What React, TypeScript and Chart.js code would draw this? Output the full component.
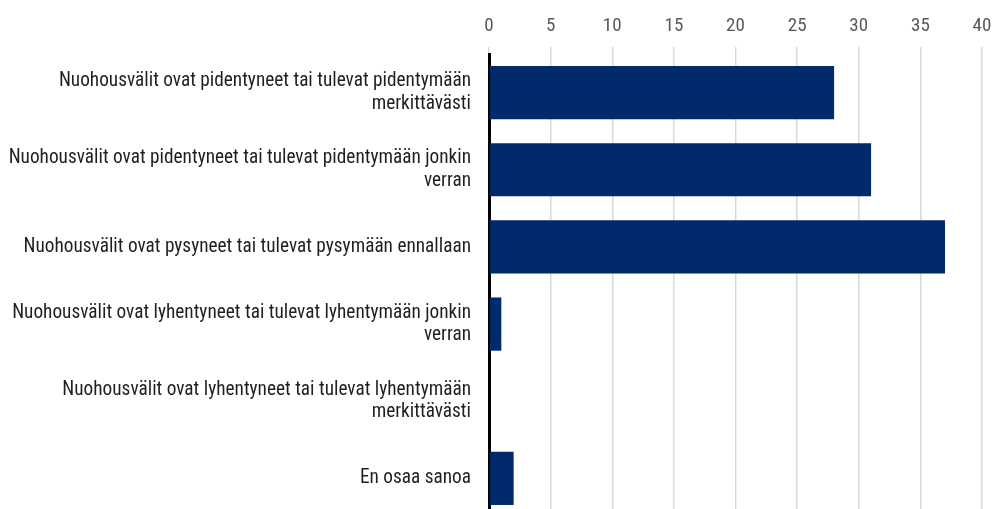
import React, { useEffect, useRef } from "react";
import { Chart, registerables } from "chart.js";

Chart.register(...registerables);

const categories: string[][] = [
  ["Nuohousvälit ovat pidentyneet tai tulevat pidentymään", "merkittävästi"],
  ["Nuohousvälit ovat pidentyneet tai tulevat pidentymään jonkin", "verran"],
  ["Nuohousvälit ovat pysyneet tai tulevat pysymään ennallaan"],
  ["Nuohousvälit ovat lyhentyneet tai tulevat lyhentymään jonkin", "verran"],
  ["Nuohousvälit ovat lyhentyneet tai tulevat lyhentymään", "merkittävästi"],
  ["En osaa sanoa"],
];

const values: number[] = [28, 31, 37, 1, 0, 2];

const xMin = 0;
const xMax = 40;
const xStep = 5;

const FONT = "Roboto, 'Open Sans', sans-serif";
const STRETCH = "condensed";

export default function App() {
  const ref = useRef<HTMLCanvasElement | null>(null);

  useEffect(() => {
    if (!ref.current) return;
    const chart = new Chart(ref.current, {
      type: "bar",
      data: {
        labels: categories,
        datasets: [
          {
            data: values,
            backgroundColor: "#002a6b",
            borderWidth: 0,
            categoryPercentage: 0.69,
            barPercentage: 1,
          },
        ],
      },
      options: {
        indexAxis: "y",
        responsive: false,
        animation: false,
        layout: { padding: { left: 0, right: 12, top: 0, bottom: 0 } },
        plugins: {
          legend: { display: false },
          tooltip: { enabled: false },
        },
        scales: {
          x: {
            position: "top",
            min: xMin,
            max: xMax,
            ticks: {
              stepSize: xStep,
              color: "#595959",
              padding: 9,
              font: { family: FONT, size: 19, weight: STRETCH as any },
            },
            grid: {
              color: "#d9d9d9",
              lineWidth: 1.5,
              tickLength: 7,
              drawTicks: true,
            },
            border: { display: false },
            afterFit: (scale: any) => {
              scale.height = 54;
              scale.paddingLeft = 0;
              scale.paddingRight = 0;
            },
          },
          y: {
            ticks: {
              color: "#1f1f1f",
              padding: 18,
              font: { family: FONT, size: 19.3, lineHeight: 1.18, weight: STRETCH as any },
            },
            grid: { display: false, drawTicks: false },
            border: { display: true, color: "#000000", width: 3 },
            afterFit: (scale: any) => {
              scale.width = 489;
              scale.paddingTop = 0;
              scale.paddingBottom = 0;
            },
          },
        },
      },
    });
    return () => chart.destroy();
  }, []);

  return (
    <div
      style={{
        position: "fixed",
        left: 0,
        top: 0,
        width: 994,
        height: 509,
        overflow: "hidden",
        background: "#ffffff",
      }}
    >
      <canvas ref={ref} width={994} height={517} style={{ display: "block" }} />
    </div>
  );
}
